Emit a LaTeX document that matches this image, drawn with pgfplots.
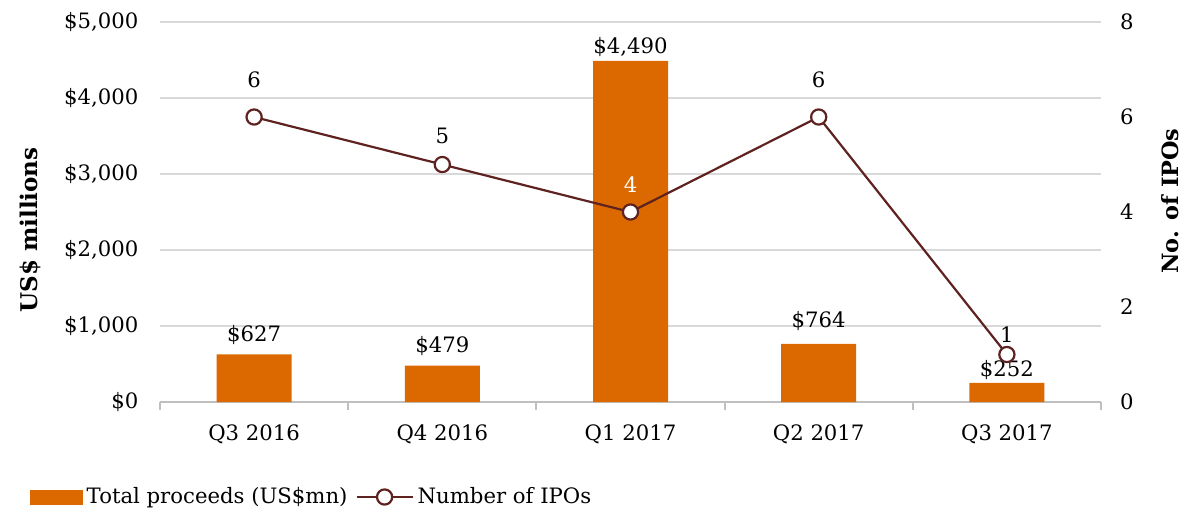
\documentclass[border=0pt]{standalone}
\usepackage{fontspec}
\setmainfont{DejaVu Serif}
\usepackage{pgfplots}
\pgfplotsset{compat=1.18}
\definecolor{pwcorange}{HTML}{DC6900}
\definecolor{ipoline}{HTML}{5E2320}
\definecolor{gridgray}{HTML}{D9D9D9}
\definecolor{axisgray}{HTML}{BFBFBF}
\newcommand\cf{\fontsize{10.6}{12.7}\selectfont}
\pgfplotsset{
  base/.style={
    scale only axis, width=470.5pt, height=190pt,
    xmin=-0.5, xmax=4.5,
    /pgf/number format/assume math mode=true,
    /pgf/number format/fixed, /pgf/number format/precision=0,
    /pgf/number format/1000 sep={,},
    tick label style={font=\cf},
  },
  lbl/.style={draw=none, mark=none, forget plot, nodes near coords,
    nodes near coords style={font=\cf, text=black}},
  ipoleg/.style={legend image code/.code={\draw[mark repeat=2,mark phase=2,##1] plot coordinates {(0pt,0pt)(14pt,0pt)(28pt,0pt)};}},
  barleg/.style={legend image code/.code={\fill[pwcorange] (0pt,-3.5pt) rectangle (26pt,3.5pt);}},
}
\begin{document}
\begin{tikzpicture}
\begin{axis}[base,
  ymin=0, ymax=5000, ytick={0,1000,...,5000},
  axis x line*=bottom, axis y line*=left,
  y axis line style={draw=none},
  x axis line style={draw=axisgray, line width=1pt, -},
  ytick style={draw=none},
  xtick={0,...,4}, xticklabels={Q3 2016,Q4 2016,Q1 2017,Q2 2017,Q3 2017},
  major x tick style={draw=none},
  minor xtick={-0.5,0.5,...,4.5},
  minor tick length=4pt, tick align=outside,
  minor x tick style={draw=axisgray, line width=1pt},
  xticklabel style={yshift=-3.5pt},
  yticklabel={\$\pgfmathprintnumber{\tick}},
  yticklabel style={xshift=-3pt},
  ymajorgrids, grid style={draw=gridgray, line width=0.6pt},
  every axis y label/.style={at={(axis description cs:-0.138,0.453)}, rotate=90, anchor=center, font=\fontsize{11.5}{13.8}\selectfont\bfseries},
  ylabel={US\$ millions},
]
\addplot[ybar, bar width=37.5pt, fill=pwcorange, draw=none] coordinates {(0,627)(1,479)(2,4490)(3,764)(4,252)};
\addplot[lbl, nodes near coords={\$\pgfmathprintnumber{\pgfplotspointmeta}}, every node near coord/.append style={yshift=1.5pt}] coordinates {(0,627)(1,479)};
\addplot[lbl, nodes near coords={\$\pgfmathprintnumber{\pgfplotspointmeta}}, every node near coord/.append style={yshift=-1.5pt}] coordinates {(2,4490)};
\addplot[lbl, nodes near coords={\$\pgfmathprintnumber{\pgfplotspointmeta}}, every node near coord/.append style={yshift=3pt}] coordinates {(3,764)};
\addplot[lbl, nodes near coords={\$\pgfmathprintnumber{\pgfplotspointmeta}}, every node near coord/.append style={yshift=-2pt}] coordinates {(4,252)};
\end{axis}
\begin{axis}[base,
  ymin=0, ymax=8, ytick={0,2,...,8},
  axis x line=none, axis y line*=right,
  y axis line style={draw=none},
  ytick style={draw=none},
  yticklabel style={xshift=6pt},
  every axis y label/.style={at={(axis description cs:1.073,0.529)}, rotate=90, anchor=center, font=\fontsize{11.2}{13.4}\selectfont\bfseries},
  ylabel={No. of IPOs},
  legend style={at={(axis description cs:-0.145,-0.25)}, anchor=west, draw=none, fill=none,
    font=\cf, legend columns=2,
    /tikz/every even column/.append style={column sep=2pt}},
  legend cell align=left,
]
\addlegendimage{barleg}
\addlegendentry{Total proceeds (US\$mn)}
\addplot[ipoline, line width=1.1pt, mark=*, mark size=3.8pt,
  mark options={fill=white, draw=ipoline, line width=1.1pt}, ipoleg]
  coordinates {(0,6)(1,5)(2,4)(3,6)(4,1)};
\addlegendentry{Number of IPOs}
\addplot[lbl, every node near coord/.append style={yshift=11pt}] coordinates {(0,6)(3,6)};
\addplot[lbl, every node near coord/.append style={yshift=7pt}] coordinates {(1,5)};
\addplot[lbl, nodes near coords style={text=white}, every node near coord/.append style={yshift=6pt}] coordinates {(2,4)};
\addplot[lbl, every node near coord/.append style={yshift=2.5pt}] coordinates {(4,1)};
\end{axis}
\pgfresetboundingbox
\path (-80pt,-54pt) rectangle (511pt,201pt);
\end{tikzpicture}
\end{document}
